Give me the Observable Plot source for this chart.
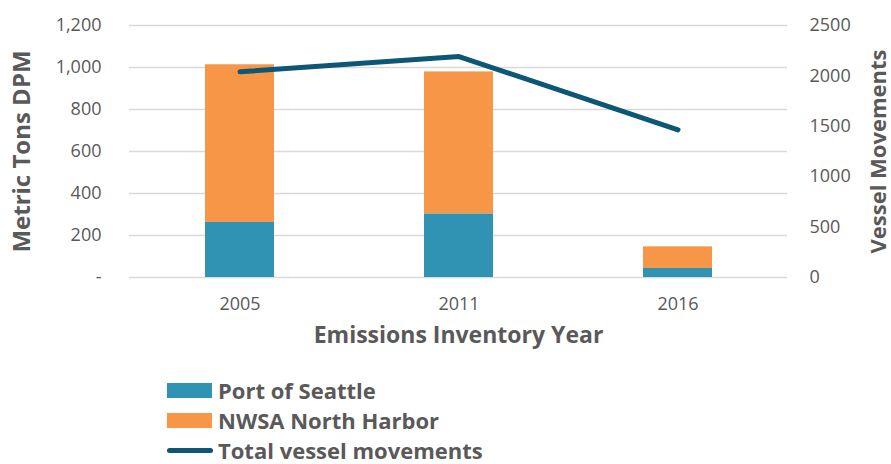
<!DOCTYPE html>
<html>
<head>
<meta charset="utf-8">
<script src="https://cdn.jsdelivr.net/npm/d3@7"></script>
<script src="https://cdn.jsdelivr.net/npm/@observablehq/plot@0.6"></script>
<style>
  html, body { margin: 0; padding: 0; background: #fff; }
  #wrap { position: relative; width: 891px; height: 464px; overflow: hidden; font-family: "Open Sans", sans-serif; }
  #legend { position: absolute; left: 167px; top: 375px; color: #595959; font-weight: bold; font-size: 22px; }
  .row { display: flex; align-items: center; height: 30px; }
  .row span { line-height: 1; }
  .sw { width: 45px; height: 15px; margin-right: 6px; }
  .ln { width: 46px; height: 5px; border-radius: 3px; margin-right: 5px; background: #0d5676; }
</style>
</head>
<body>
<div id="wrap"><div id="chart"></div><div id="legend"></div></div>
<script>
const years = ["2005", "2011", "2016"];
const seriesNames = ["Port of Seattle", "NWSA North Harbor"];
const portOfSeattle = [262, 303, 43];
const nwsaNorthHarbor = [751, 676, 103];
const vesselMovements = [2041, 2192, 1465];
const leftTicks = [0, 200, 400, 600, 800, 1000, 1200];
const leftTickLabels = ["-", "200", "400", "600", "800", "1,000", "1,200"];
const rightTicks = [0, 500, 1000, 1500, 2000, 2500];
const lineLabel = "Total vessel movements";
const colors = ["#3193b3", "#f79646"];
const lineColor = "#0d5676";

const ratio = 1200 / 2500;
const bars = [];
years.forEach((y, i) => {
  bars.push({year: y, series: seriesNames[0], value: portOfSeattle[i]});
  bars.push({year: y, series: seriesNames[1], value: nwsaNorthHarbor[i]});
});
const lineData = years.map((y, i) => ({year: y, v: vesselMovements[i] * ratio}));

const chart = Plot.plot({
  width: 891,
  height: 365,
  marginTop: 25,
  marginBottom: 88,
  marginLeft: 129,
  marginRight: 104,
  style: {fontFamily: "Open Sans", color: "#595959", background: "white", overflow: "visible"},
  x: {domain: years, paddingInner: 0.685, paddingOuter: 0.3425, axis: null},
  y: {domain: [0, 1200], axis: null},
  color: {domain: seriesNames, range: colors},
  marks: [
    Plot.ruleY(leftTicks, {stroke: "#d9d9d9", strokeWidth: 1.5}),
    Plot.barY(bars, {x: "year", y: "value", fill: "series", order: seriesNames}),
    Plot.line(lineData, {x: "year", y: "v", stroke: lineColor, strokeWidth: 5, strokeLinecap: "round", strokeLinejoin: "round"}),
    Plot.axisY({anchor: "left", ticks: leftTicks, tickSize: 0, tickPadding: 28, tickFormat: (d) => leftTickLabels[leftTicks.indexOf(d)], fontSize: 18, fill: "#595959", label: null}),
    Plot.axisY({anchor: "right", ticks: rightTicks.map(v => v * ratio), tickSize: 0, tickPadding: 22, tickFormat: (d) => String(Math.round(d / ratio)), fontSize: 18, fill: "#595959", label: null}),
    Plot.axisX({anchor: "bottom", tickSize: 0, tickPadding: 20, fontSize: 18, fill: "#595959", label: null}),
    Plot.text(["Metric Tons DPM"], {frameAnchor: "left", textAnchor: "middle", dx: -107, rotate: -90, fontSize: 24, fontWeight: "bold", fill: "#595959", text: d => d}),
    Plot.text(["Vessel Movements"], {frameAnchor: "right", textAnchor: "middle", dx: 91, rotate: -90, fontSize: 22, fontWeight: "bold", fill: "#595959", text: d => d}),
    Plot.text(["Emissions Inventory Year"], {frameAnchor: "bottom", textAnchor: "middle", dy: 65, fontSize: 23, fontWeight: "bold", fill: "#595959", text: d => d})
  ]
});
document.getElementById("chart").appendChild(chart);

const legend = document.getElementById("legend");
seriesNames.forEach((s, i) => {
  const row = document.createElement("div");
  row.className = "row";
  row.innerHTML = `<div class="sw" style="background:${colors[i]}"></div><span>${s}</span>`;
  legend.appendChild(row);
});
const row = document.createElement("div");
row.className = "row";
row.innerHTML = `<div class="ln"></div><span>${lineLabel}</span>`;
legend.appendChild(row);
</script>
</body>
</html>
